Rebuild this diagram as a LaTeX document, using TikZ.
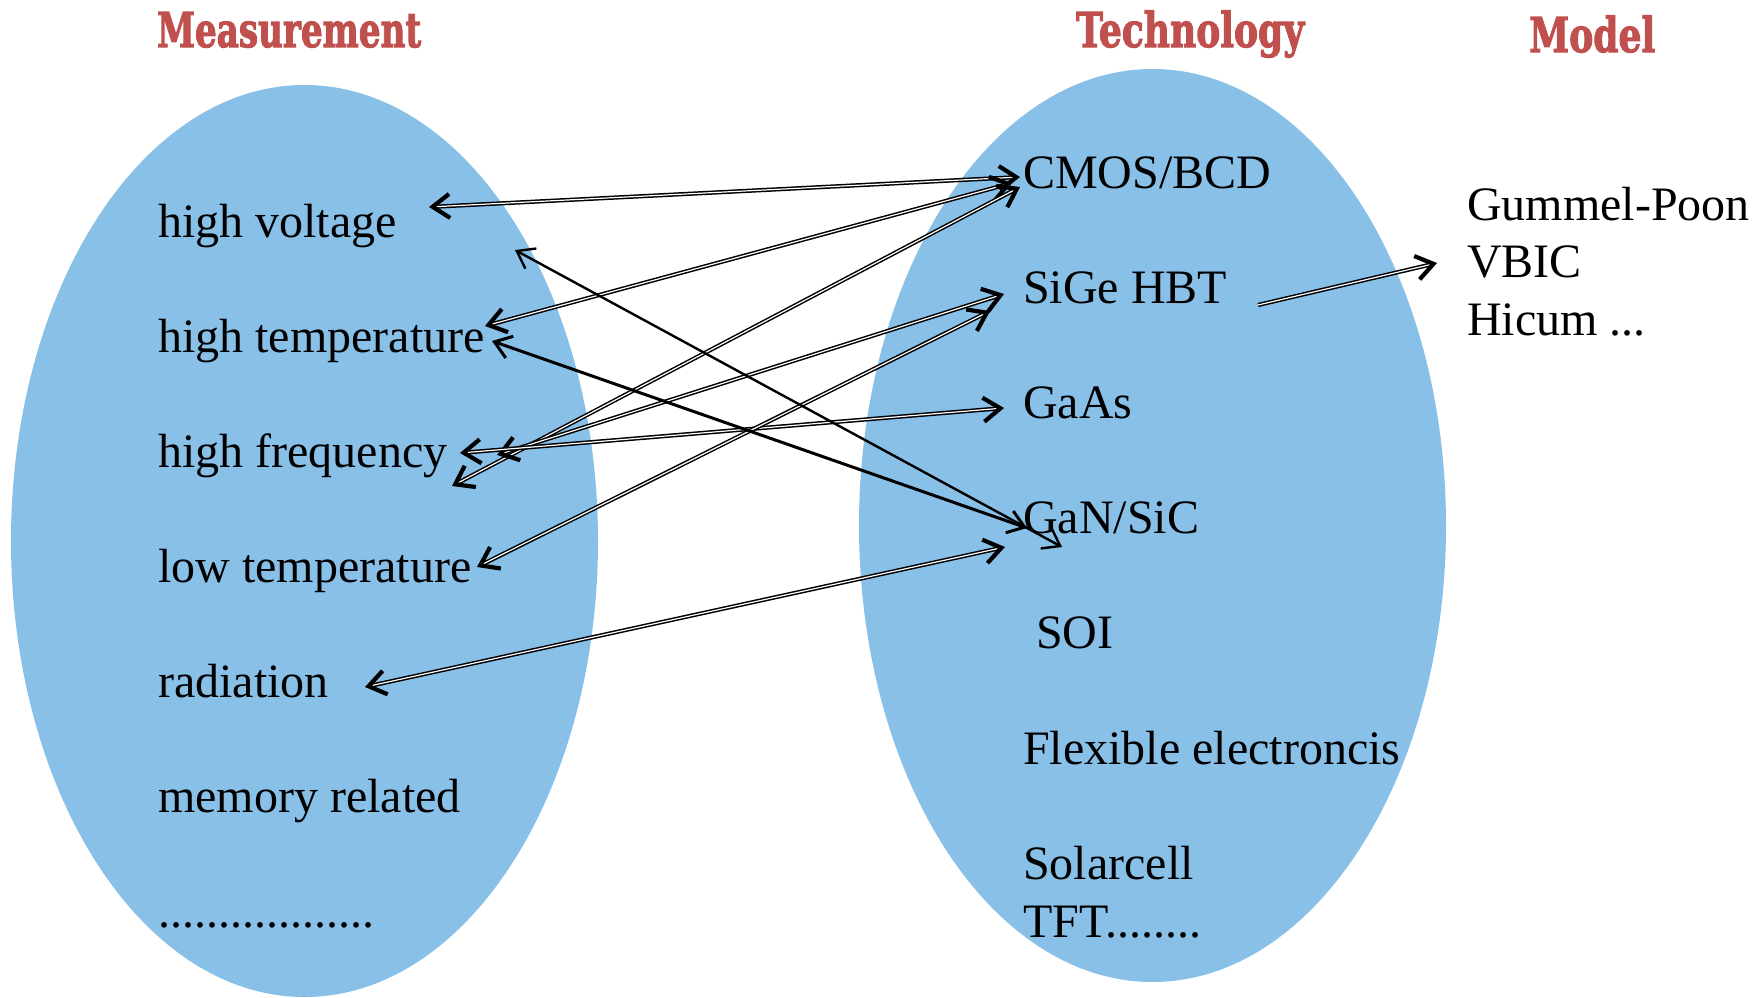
\documentclass[tikz,border=0pt]{standalone}
\usepackage{fontspec}
\setmainfont{Liberation Serif}
\newfontfamily\titlefont{DejaVu Serif}[BoldFeatures={FakeBold=2.5}]
\usetikzlibrary{arrows.meta}

\definecolor{setblue}{RGB}{137,192,232}
\definecolor{titlered}{RGB}{192,80,77}

\tikzset{
  lbl/.style={anchor=base west, inner sep=0pt, font=\fontsize{48}{57.6}\selectfont},
  ttl/.style={anchor=base west, inner sep=0pt, text=titlered,
    font=\titlefont\bfseries\fontsize{48}{57.6}\selectfont},
  dbarb/.tip={Straight Barb[length=17pt,width=24pt,line width=4.2pt]},
  sbarb/.tip={Straight Barb[length=16pt,width=23pt]},
  link/.style={draw=black, double=white, line width=1.5pt, double distance=1.2pt,
    dbarb-dbarb},
  thinlink/.style={draw=black, line width=2.4pt, sbarb-sbarb},
  boldlink/.style={draw=black, line width=3pt, sbarb-sbarb},
  onelink/.style={draw=black, double=white, line width=1.5pt, double distance=1.2pt,
    -dbarb},
}

\begin{document}
\begin{tikzpicture}[x=1pt, y=-1pt]
  \useasboundingbox (0,0) rectangle (1756,997);

  % the two sets
  \fill[setblue] (304.5,541) ellipse [x radius=293.5, y radius=456];
  \fill[setblue] (1152.5,525.5) ellipse [x radius=293.5, y radius=456.5];

  % headings
  \node[ttl] (tmeas) at (157,47) {\resizebox{264pt}{\height}{Measurement}};
  \node[ttl] (ttech) at (1076,47) {\resizebox{228pt}{\height}{Technology}};
  \node[ttl] (tmodel) at (1529,52) {\resizebox{126pt}{\height}{Model}};

  % measurement conditions
  \node[lbl] (hv)  at (158,237) {high voltage};
  \node[lbl] (ht)  at (158,352) {high temperature};
  \node[lbl] (hf)  at (158,467) {high frequency};
  \node[lbl] (lt)  at (158,582) {low temperature};
  \node[lbl] (rad) at (158,697) {radiation};
  \node[lbl] (mem) at (158,812) {memory related};
  \node[lbl] (mdots) at (158,927) {..................};

  % technologies
  \node[lbl] (cmos) at (1023,188) {CMOS/BCD};
  \node[lbl] (sige) at (1023,303) {SiGe HBT};
  \node[lbl] (gaas) at (1023,418) {GaAs};
  \node[lbl] (gan)  at (1023,533) {GaN/SiC};
  \node[lbl] (soi)  at (1036,648) {SOI};
  \node[lbl] (flex) at (1023,764) {Flexible electroncis};
  \node[lbl] (solar) at (1023,879) {Solarcell};
  \node[lbl] (tft)  at (1023,937) {TFT........};

  % compact models
  \node[lbl] (gp)    at (1467,220) {Gummel-Poon};
  \node[lbl] (vbic)  at (1467,277) {VBIC};
  \node[lbl] (hicum) at (1467,335) {Hicum ...};

  % connector ends
  \coordinate (hv-a)  at (429,207);
  \coordinate (hv-b)  at (515,250);
  \coordinate (ht-a)  at (485,326);
  \coordinate (ht-b)  at (492,341);
  \coordinate (hf-a)  at (460,453);
  \coordinate (hf-b)  at (497,455);
  \coordinate (hf-c)  at (452,486);
  \coordinate (lt-a)  at (477,567);
  \coordinate (rad-a) at (365,687);
  \coordinate (cmos-a) at (1020,177);
  \coordinate (cmos-b) at (1012,183);
  \coordinate (cmos-c) at (1020,187);
  \coordinate (sige-a) at (1004,294);
  \coordinate (sige-b) at (990,311);
  \coordinate (sige-out) at (1258,305);
  \coordinate (gaas-a) at (1004,408);
  \coordinate (gan-a)  at (1027,528);
  \coordinate (gan-b)  at (1005,547);
  \coordinate (gan-c)  at (1062,547);
  \coordinate (model-in) at (1437,263);

  % links between measurements and technologies
  \draw[link] (hv-a) -- (cmos-a);
  \draw[link] (ht-a) -- (cmos-b);
  \draw[link] (hf-c) -- (cmos-c);
  \draw[link] (hf-b) -- (sige-a);
  \draw[link] (hf-a) -- (gaas-a);
  \draw[link] (lt-a) -- (sige-b);
  \draw[link] (rad-a) -- (gan-b);
  \draw[thinlink] (hv-b) -- (gan-c);
  \draw[boldlink] (ht-b) -- (gan-a);

  % technology to models
  \draw[onelink] (sige-out) -- (model-in);
\end{tikzpicture}
\end{document}
